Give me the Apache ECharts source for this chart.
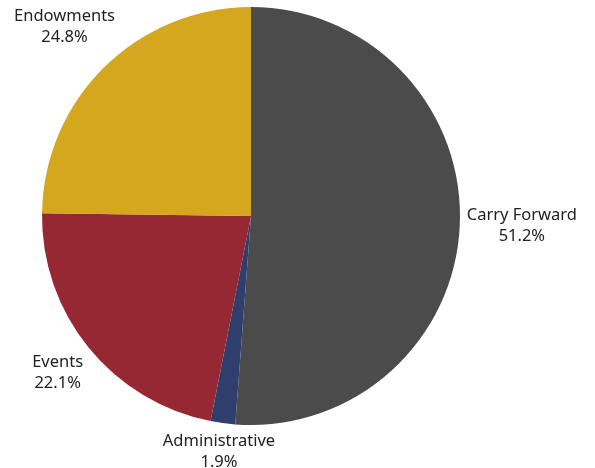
<!DOCTYPE html>
<html>
<head>
<meta charset="utf-8">
<script src="https://cdn.jsdelivr.net/npm/echarts@6/dist/echarts.min.js"></script>
<style>html,body{margin:0;padding:0;background:#fff}#c{width:595px;height:468px}</style>
</head>
<body>
<div id="c"></div>
<script>
var categories = ['Carry Forward', 'Administrative', 'Events', 'Endowments'];
var shares = [51.2, 1.9, 22.1, 24.8];
var colors = ['#4b4b4b', '#2e3f6e', '#952832', '#d4a71f'];

var chart = echarts.init(document.getElementById('c'), null, {renderer: 'canvas'});
var GAP = 7;

function placeLabel(params) {
  var data = chart.getModel().getSeriesByIndex(params.seriesIndex).getData();
  var lay = data.getItemLayout(params.dataIndex);
  var mid = (lay.startAngle + lay.endAngle) / 2;
  var ux = Math.cos(mid), uy = Math.sin(mid);
  var hw = params.labelRect.width / 2, hh = params.labelRect.height / 2;
  var sx = (ux >= 0 ? 1 : -1) * hw, sy = (uy >= 0 ? 1 : -1) * hh;
  var R = lay.r + GAP;
  var us = ux * sx + uy * sy;
  var d = us + Math.sqrt(us * us - (sx * sx + sy * sy) + R * R);
  return {
    x: lay.cx + d * ux,
    y: lay.cy + d * uy,
    align: 'center',
    verticalAlign: 'middle'
  };
}

chart.setOption({
  animation: false,
  backgroundColor: '#fff',
  series: [{
    type: 'pie',
    center: [251, 216],
    radius: [0, 209],
    startAngle: 90,
    clockwise: true,
    avoidLabelOverlap: false,
    itemStyle: {borderWidth: 0},
    label: {
      show: true,
      position: 'outside',
      fontFamily: 'Noto Sans',
      fontSize: 16.5,
      lineHeight: 21,
      color: '#222',
      formatter: function (p) { return p.name + '\n' + p.value.toFixed(1) + '%'; }
    },
    labelLine: {show: false},
    labelLayout: placeLabel,
    data: categories.map(function (n, i) {
      return {name: n, value: shares[i], itemStyle: {color: colors[i]}};
    })
  }]
});
</script>
</body>
</html>
